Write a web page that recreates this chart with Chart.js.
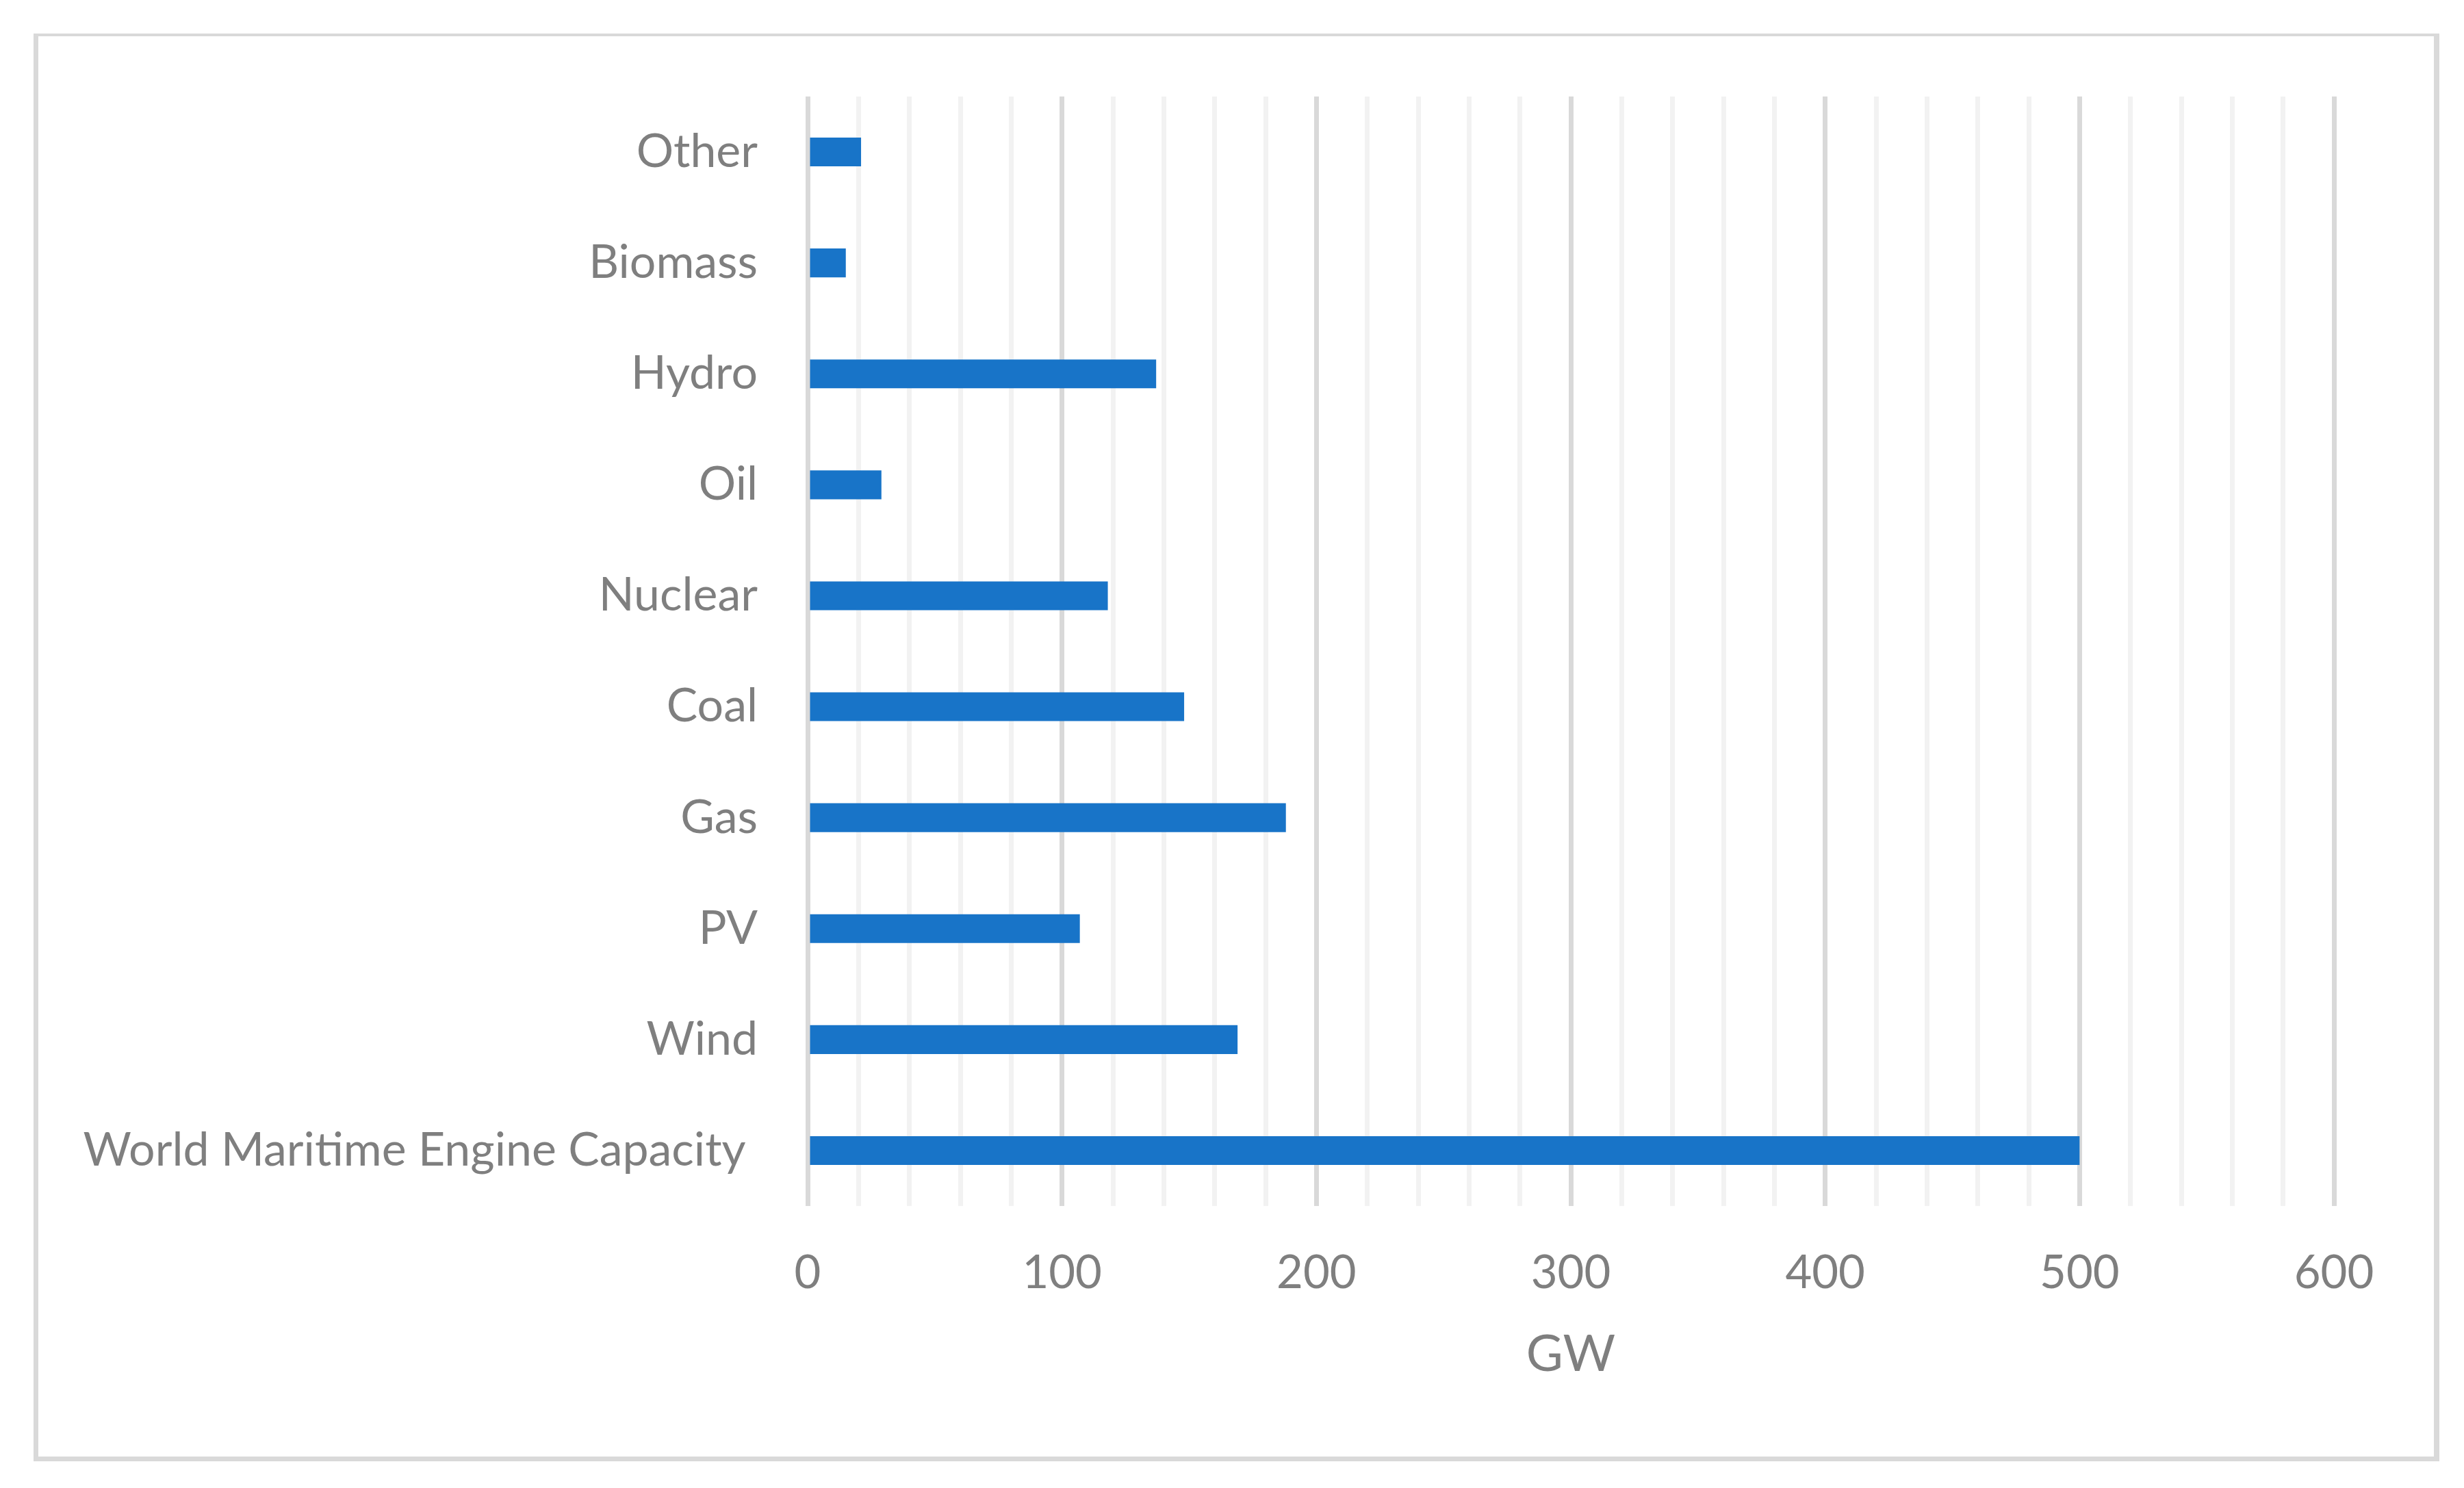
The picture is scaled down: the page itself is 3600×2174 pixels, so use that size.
<!DOCTYPE html>
<html>
<head>
<meta charset="utf-8">
<script src="https://cdn.jsdelivr.net/npm/chart.js@4"></script>
<style>
  body { margin: 0; background: #fff; }
  #wrap { position: relative; width: 3600px; height: 2174px; }
  #frame {
    position: absolute; left: 49px; top: 49px; width: 3500px; height: 2075px;
    border: 7px solid #d9d9d9; border-top-width: 4px; border-right-width: 8px;
  }
  canvas { position: absolute; left: 0; top: 0; }
</style>
</head>
<body>
<div id="wrap">
  <div id="frame"></div>
  <canvas id="capChart" width="3600" height="2174"></canvas>
</div>
<script>
// categories, top to bottom as drawn
const categories = ["Other", "Biomass", "Hydro", "Oil", "Nuclear", "Coal", "Gas", "PV", "Wind", "World Maritime Engine Capacity "];
const capacityGW = [21, 15, 137, 29, 118, 148, 188, 107, 169, 500];
const xTicks = [0, 100, 200, 300, 400, 500, 600];

const textGrey = "#7f7f7f";

const ctx = document.getElementById("capChart").getContext("2d");
const capChart = new Chart(ctx, {
  type: "bar",
  data: {
    labels: categories,
    datasets: [{
      label: "GW",
      data: capacityGW,
      backgroundColor: "#1874c8",
      borderWidth: 0,
      barPercentage: 0.52,
      categoryPercentage: 0.5
    }]
  },
  options: {
    indexAxis: "y",
    responsive: false,
    animation: false,
    layout: { padding: { top: 141, right: 190, left: 0, bottom: 0 } },
    plugins: { legend: { display: false }, tooltip: { enabled: false } },
    scales: {
      x: {
        min: 0,
        max: 600,
        border: { display: false },
        grid: {
          drawTicks: false,
          lineWidth: 7,
          color: (c) => (c.tick && c.tick.value % 100 === 0) ? "#d9d9d9" : "#f2f2f2"
        },
        ticks: {
          stepSize: 20,
          autoSkip: false,
          maxRotation: 0,
          minRotation: 0,
          padding: 58,
          color: textGrey,
          font: { family: "Lato", size: 67 },
          callback: (v) => xTicks.includes(v) ? String(v) : ""
        },
        title: {
          display: true,
          text: "GW",
          color: textGrey,
          font: { family: "Lato", size: 74 },
          padding: { top: 0, bottom: 150 }
        },
        afterFit: (scale) => { scale.height = 2174 - 1762; }
      },
      y: {
        border: { display: false },
        grid: { display: false, drawTicks: false },
        ticks: {
          padding: 73,
          color: textGrey,
          font: { family: "Lato", size: 68 }
        },
        afterFit: (scale) => { scale.width = 1180; }
      }
    }
  }
});
</script>
</body>
</html>
